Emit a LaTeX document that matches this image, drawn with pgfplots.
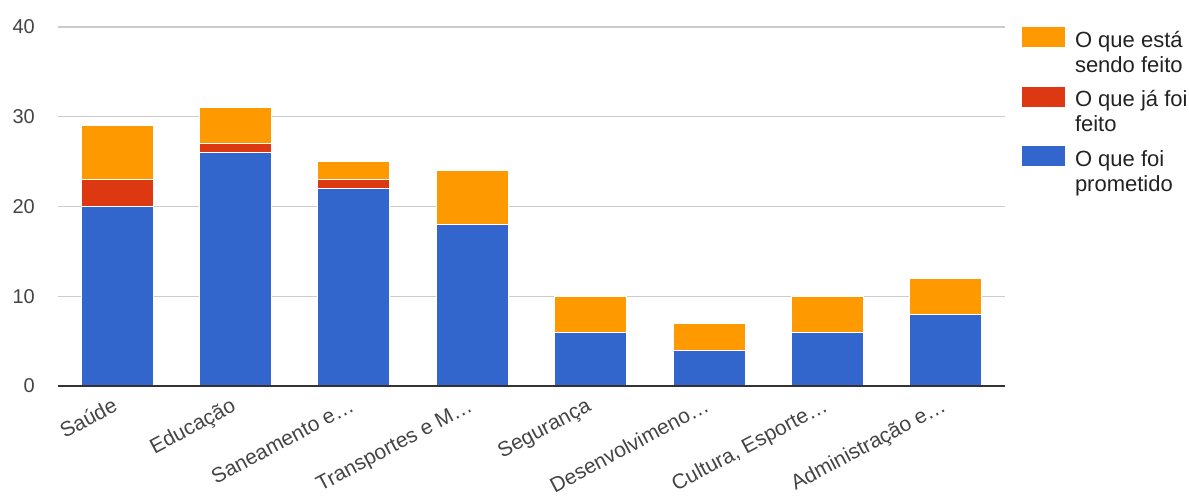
\documentclass[border=0pt]{standalone}
\usepackage{pgfplots}
\pgfplotsset{compat=1.18}
\usepackage{fontspec}
\setmainfont{Liberation Sans}

\definecolor{promBlue}{HTML}{3366CC}
\definecolor{feitoRed}{HTML}{DC3912}
\definecolor{sendoOrange}{HTML}{FF9900}
\definecolor{gridGray}{HTML}{CCCCCC}
\definecolor{tickGray}{HTML}{444444}
\definecolor{legendText}{HTML}{222222}
\definecolor{baseGray}{HTML}{333333}

% fixed line heights for the two-line legend entries
\newcommand\topstrut{\rule{0pt}{21pt}}
\newcommand\botstrut{\rule[-7pt]{0pt}{7pt}}

\begin{document}
\begin{tikzpicture}
% canvas of the whole figure, measured from the plot area's lower left corner
\path[use as bounding box] (-58pt,-112pt) rectangle (1131pt,386pt);
\begin{axis}[
  name=main,
  at={(0pt,0pt)}, anchor=south west,
  scale only axis, width=947pt, height=359pt,
  ybar stacked, bar width=72pt,
  xmin=-0.5, xmax=7.5, ymin=0, ymax=40,
  xtick={0,1,2,3,4,5,6,7},
  xticklabels={Saúde, Educação, {Saneamento e…}, {Transportes e M…}, Segurança, {Desenvolvimeno…}, {Cultura, Esporte…}, {Administração e…}},
  ytick={0,10,20,30,40},
  axis line style={draw=none},
  major tick length=0pt,
  tick style={draw=none},
  ymajorgrids, grid style={gridGray, line width=1.3pt},
  /pgf/number format/assume math mode=true,
  yticklabel style={font=\fontsize{20}{24}\selectfont, text=tickGray, inner sep=0pt, anchor=east, xshift=-23pt},
  xticklabel style={font=\fontsize{21}{24}\selectfont, text=tickGray, inner sep=0pt, rotate=28, anchor=north east, text height=14pt, text depth=4pt, xshift=-10pt, yshift=-8pt},
  reverse legend,
  legend cell align=left,
  legend image code/.code={\fill[#1, draw=none] (0pt,-21pt) rectangle (43pt,-1pt);},
  legend style={at={(rel axis cs:1,1)}, anchor=north west, xshift=17pt, yshift=1pt,
    draw=none, fill=none, inner sep=0pt, outer sep=0pt,
    row sep=12pt, column sep=10pt,
    font=\fontsize{22}{25}\selectfont, text=legendText,
    nodes={inner sep=0pt, outer sep=0pt},
    cells={anchor=north west, align=left}},
]
\addplot[fill=promBlue, draw=white, line width=1pt] coordinates
  {(0,20) (1,26) (2,22) (3,18) (4,6) (5,4) (6,6) (7,8)};
\addlegendentry{\topstrut O que foi\\prometido\botstrut}
\addplot[fill=feitoRed, draw=white, line width=1pt] coordinates
  {(0,3) (1,1) (2,1) (3,0) (4,0) (5,0) (6,0) (7,0)};
\addlegendentry{\topstrut O que já foi\\feito\botstrut}
\addplot[fill=sendoOrange, draw=white, line width=1pt] coordinates
  {(0,6) (1,4) (2,2) (3,6) (4,4) (5,3) (6,4) (7,4)};
\addlegendentry{\topstrut O que está\\sendo feito\botstrut}
\end{axis}
% baseline over the bars, along the bottom edge of the plot area
\draw[baseGray, line width=1.8pt] (main.south west) -- (main.south east);
\end{tikzpicture}
\end{document}
